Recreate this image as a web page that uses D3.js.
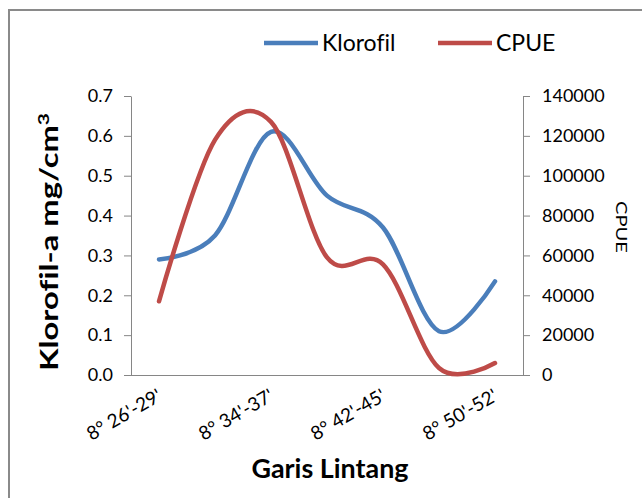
<!DOCTYPE html>
<html lang="id">
<head>
<meta charset="UTF-8">
<title>Klorofil dan CPUE</title>
<script src="https://d3js.org/d3.v7.min.js"></script>
<style>
  body { margin: 0; background: #fff; font-family: Lato, "Open Sans", sans-serif; }
  svg text { font-variant-ligatures: none; }
  .axis path, .axis line { stroke: #868686; }
  .axis text { font-family: Lato, sans-serif; font-size: 18px; fill: #000; }
  .line { fill: none; stroke-width: 4.5px; stroke-linecap: round; }
</style>
</head>
<body>
<div id="chart"></div>
<script>
// data
const tickLabels = ["8° 26'-29'", "8° 34'-37'", "8° 42'-45'", "8° 50'-52'"];
const labelledIdx = [0, 2, 4, 6];           // categories that carry a label
const klorofil = [0.29, 0.35, 0.61, 0.45, 0.37, 0.11, 0.235];
const cpue = [37000, 118000, 127000, 59000, 55500, 3500, 6000];
const seriesNames = ["Klorofil", "CPUE"];
const colors = ["#4A7EBB", "#BE4B48"];

const W = 642, H = 498;
const plot = { left: 131, right: 523, top: 96, bottom: 375 };

const svg = d3.select("#chart").append("svg")
  .attr("width", W).attr("height", H);

// outer frame (only left and top edges fall in the picture)
svg.append("path")
  .attr("d", `M9,${H} V10 H${W}`)
  .attr("fill", "none").attr("stroke", "#8a8a8a").attr("stroke-width", 2);

const x = d3.scalePoint()
  .domain(d3.range(klorofil.length))
  .range([plot.left, plot.right])
  .padding(0.5);

const yL = d3.scaleLinear().domain([0, 0.7]).range([plot.bottom, plot.top]);
const yR = d3.scaleLinear().domain([0, 140000]).range([plot.bottom, plot.top]);

// left axis
svg.append("g").attr("class", "axis")
  .attr("transform", `translate(${plot.left},0)`)
  .call(d3.axisLeft(yL).tickValues(d3.range(0, 0.71, 0.1)).tickFormat(d3.format(".1f"))
    .tickSize(7).tickPadding(11).tickSizeOuter(0));

// right axis
svg.append("g").attr("class", "axis")
  .attr("transform", `translate(${plot.right},0)`)
  .call(d3.axisRight(yR).tickValues(d3.range(0, 140001, 20000)).tickFormat(d3.format("d"))
    .tickSize(7).tickPadding(12).tickSizeOuter(0));

// bottom axis
const xAxis = svg.append("g").attr("class", "axis")
  .attr("transform", `translate(0,${plot.bottom})`)
  .call(d3.axisBottom(x).tickValues(labelledIdx)
    .tickFormat((d, i) => tickLabels[i]).tickSize(0).tickSizeOuter(0));
xAxis.select(".domain").attr("d", `M${plot.left},0.5H${plot.right}`);
xAxis.selectAll("text")
  .style("font-size", "19px")
  .attr("text-anchor", "end")
  .attr("dy", 0)
  .attr("transform", "translate(2,22) rotate(-30)");

// lines
const curve = d3.curveCardinal.tension(0);
const lineL = d3.line().x((d, i) => x(i)).y(d => yL(d)).curve(curve);
const lineR = d3.line().x((d, i) => x(i)).y(d => yR(d)).curve(curve);

svg.append("path").datum(klorofil).attr("class", "line")
  .attr("stroke", colors[0]).attr("d", lineL);
svg.append("path").datum(cpue).attr("class", "line")
  .attr("stroke", colors[1]).attr("d", lineR);

// axis titles
svg.append("text")
  .attr("transform", `translate(58,242) rotate(-90)`)
  .attr("text-anchor", "middle")
  .attr("textLength", 258).attr("lengthAdjust", "spacingAndGlyphs")
  .style("font-size", "25px").style("font-weight", "bold")
  .html("Klorofil-a mg/cm<tspan dy='-9' font-size='16px'>3</tspan>");

svg.append("text")
  .attr("transform", `translate(616,227) rotate(90)`)
  .attr("text-anchor", "middle")
  .attr("textLength", 52).attr("lengthAdjust", "spacingAndGlyphs")
  .style("font-size", "15px")
  .text("CPUE");

svg.append("text")
  .attr("x", 330).attr("y", 478)
  .attr("text-anchor", "middle")
  .attr("textLength", 157).attr("lengthAdjust", "spacingAndGlyphs")
  .style("font-size", "26px").style("font-weight", "bold")
  .text("Garis Lintang");

// legend
const legendX = [264, 438];
seriesNames.forEach((name, i) => {
  const g = svg.append("g").attr("transform", `translate(${legendX[i]},43)`);
  g.append("line").attr("x1", 0).attr("x2", 54)
    .attr("stroke", colors[i]).attr("stroke-width", 4.5);
  g.append("text").attr("x", 58).attr("y", 8)
    .style("font-size", "23px").text(name);
});
</script>
</body>
</html>
